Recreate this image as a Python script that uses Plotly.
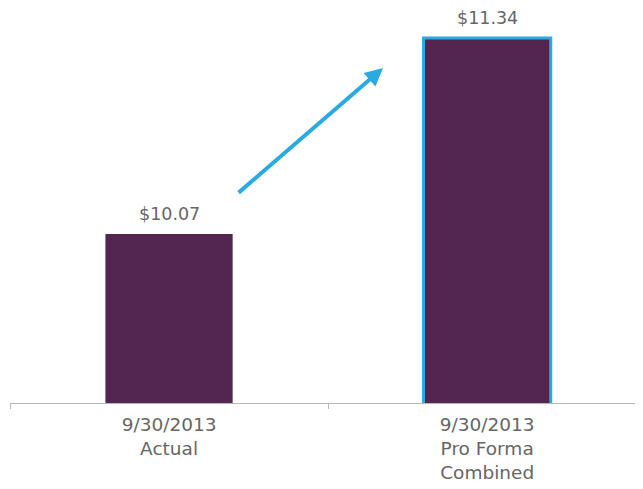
import plotly.graph_objects as go

categories = ["9/30/2013<br>Actual", "9/30/2013<br>Pro Forma<br>Combined"]
values = [10.07, 11.34]
value_labels = ["$10.07", "$11.34"]
outline_widths = [0, 3]

BAR = "#52264F"
BLUE = "#29ABE2"
GRAY = "#666666"
FONT = "DejaVu Sans, sans-serif"

fig = go.Figure()
fig.add_trace(go.Bar(
    x=categories, y=values, width=0.4,
    marker=dict(color=BAR, line=dict(color=BLUE, width=outline_widths)),
    hoverinfo="skip",
))

for c, v, t in zip(categories, values, value_labels):
    fig.add_annotation(x=c, y=v, text=t, showarrow=False, yanchor="bottom",
                       yshift=8, font=dict(family=FONT, size=17.5, color=GRAY))

# growth arrow between the bars
fig.add_annotation(x=0.673, y=11.146, ax=0.214, ay=10.33,
                   xref="x", yref="y", axref="x", ayref="y",
                   text="", showarrow=True, arrowhead=2, arrowsize=0.9,
                   arrowwidth=4, arrowcolor=BLUE)

fig.update_layout(
    width=635, height=481,
    margin=dict(l=2, r=0, t=0, b=86),
    paper_bgcolor="white", plot_bgcolor="white",
    showlegend=False,
    font=dict(family=FONT, size=18.5, color=GRAY),
    xaxis=dict(type="category", range=[-0.5, 1.49], showline=True,
               linecolor="#b8b8b8", linewidth=1, ticks="outside",
               tickson="boundaries", ticklen=5, tickcolor="#b8b8b8",
               ticklabelstandoff=5,
               showgrid=False, tickfont=dict(family=FONT, size=18.5, color=GRAY)),
    yaxis=dict(range=[8.975, 11.535], visible=False, showgrid=False),
)

fig.write_html("out.html")
